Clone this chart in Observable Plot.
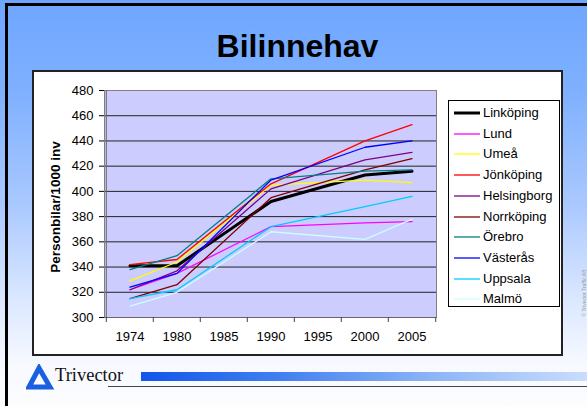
<!DOCTYPE html>
<html><head><meta charset="utf-8">
<script src="https://cdn.jsdelivr.net/npm/d3@7"></script>
<script src="https://cdn.jsdelivr.net/npm/@observablehq/plot@0.6"></script>
<style>
body{margin:0;background:#fff;font-family:"Liberation Sans",Arial,sans-serif;}
#root{position:relative;width:587px;height:406px;overflow:hidden;
  background:linear-gradient(to bottom,#6ea6ff 0%,#7eb0ff 22%,#a9c8ff 50%,#dde9ff 75%,#f7f9ff 90%,#fcfdff 100%);}
#border{position:absolute;left:5px;top:3px;right:-10px;bottom:-10px;border-left:3px solid #000;border-top:3px solid #000;}
#title{position:absolute;left:32px;width:531px;top:30px;text-align:center;font-size:32px;font-weight:bold;line-height:32px;color:#000;}
#panel{position:absolute;left:32px;top:70px;width:531px;height:286px;background:#fff;border:2px solid #222;box-sizing:border-box;}
#chart{position:absolute;left:32px;top:70px;}
#legend{position:absolute;left:448px;top:100px;width:112px;height:207px;background:#fff;border:1px solid #000;box-sizing:border-box;}
.lg{position:absolute;left:0;height:16px;font-size:13px;line-height:16px;white-space:nowrap;}
.lg svg{position:absolute;left:4px;top:0;}
.lg span{position:absolute;left:34px;top:0;}
#copy{position:absolute;left:584px;top:293px;transform:translate(-50%,-50%) rotate(-90deg);font-size:5px;color:#999;white-space:nowrap;}
#logo{position:absolute;left:26px;top:364px;}
#brand{position:absolute;left:55px;top:365px;font-family:"Liberation Serif","Times New Roman",serif;font-size:18.5px;line-height:20px;color:#111;}
#bar{position:absolute;left:141px;top:372px;width:446px;height:9px;background:linear-gradient(to right,#1255ea 0%,#3f7ef0 30%,#8cb4f6 65%,#c9ddfd 100%);}
#uline{position:absolute;left:108px;top:386px;width:479px;height:1px;background:#444;}
</style></head><body>
<div id="root">
  <div id="border"></div>
  <div id="title">Bilinnehav</div>
  <div id="panel"></div>
  <div id="chart"></div>
  <div id="legend"></div>
  <div id="copy">© Trivector Traffic AB</div>
  <svg id="logo" width="28" height="28" viewBox="0 0 28 28">
    <polygon points="13,4 24,23 3,23" fill="none" stroke="#1a5fe0" stroke-width="5" stroke-linejoin="miter"/>
  </svg>
  <div id="brand">Trivector</div>
  <div id="bar"></div>
  <div id="uline"></div>
</div>
<script>
const years = ["1974","1980","1985","1990","1995","2000","2005"];
const cities = ["Linköping","Lund","Umeå","Jönköping","Helsingborg","Norrköping","Örebro","Västerås","Uppsala","Malmö"];
const colors = ["#000000","#ff00ff","#ffff00","#ff0000","#800080","#800000","#008080","#0000ff","#00ccff","#ccffff"];
const yTicks = [300,320,340,360,380,400,420,440,460,480];
// values per city for each year (null = no value for that year)
const linkoping   = [341, 341, null, 392, null, 413, 416];
const lund        = [322, 335, null, 372, null, 375, 376];
const umea        = [329, 344, null, 405, null, 409, 407];
const jonkoping   = [342, 346, null, 406, null, 440, 453];
const helsingborg = [322, 337, null, 402, null, 425, 431];
const norrkoping  = [315, 326, null, 395, null, 417, 426];
const orebro      = [338, 349, null, 410, null, 416, 417];
const vasteras    = [324, 335, null, 409, null, 435, 440];
const uppsala     = [315, 322, null, 372, null, 388, 396];
const malmo       = [309, 320, null, 368, null, 362, 378];
const series = [linkoping,lund,umea,jonkoping,helsingborg,norrkoping,orebro,vasteras,uppsala,malmo];
const widths = cities.map(c => c === "Linköping" ? 3 : 1.3);

const W=408,H=286,ml=72,mr=4,mt=20,mb=39;
const bw=(W-ml-mr)/years.length;
const innerH=H-mt-mb;
const font='"Liberation Sans", Arial, sans-serif';

const lineMarks = series.map((vals,i) => {
  const rows = years.map((y,j)=>({year:y,value:vals[j]})).filter(d=>d.value!=null);
  return Plot.line(rows,{x:"year",y:"value",stroke:colors[i],strokeWidth:widths[i]});
});

const chart = Plot.plot({
  width:W,height:H,marginLeft:ml,marginRight:mr,marginTop:mt,marginBottom:mb,
  style:{background:"transparent",fontSize:"13px",fontFamily:font,color:"#000",overflow:"visible"},
  x:{type:"band",domain:years,padding:0},
  y:{domain:[300,480]},
  marks:[
    Plot.frame({fill:"#ccccff",stroke:null}),
    Plot.ruleY(yTicks,{stroke:"#222",strokeWidth:1}),
    Plot.frame({stroke:"#808080"}),
    Plot.ruleX([years[0]],{dx:-bw/2,stroke:"#666"}),
    Plot.ruleY([300],{stroke:"#666"}),
    Plot.ruleX(years,{dx:-bw/2,insetTop:innerH,insetBottom:-5,stroke:"#444"}),
    Plot.ruleX([years[years.length-1]],{dx:bw/2,insetTop:innerH,insetBottom:-5,stroke:"#444"}),
    Plot.axisY({ticks:yTicks,tickSize:5,tickPadding:6,label:null,tickFormat:d=>String(d)}),
    Plot.axisX({tickSize:0,tickPadding:14,label:null}),
    Plot.text(["Personbilar/1000 inv"],{frameAnchor:"left",textAnchor:"middle",lineAnchor:"middle",rotate:-90,dx:-49,dy:3,fontWeight:"bold",fontSize:13.5,fill:"#000"}),
    ...lineMarks
  ]
});
document.getElementById("chart").appendChild(chart);

const legend = document.getElementById("legend");
cities.forEach((c,i)=>{
  const el = document.createElement("div");
  el.className="lg";
  el.style.top = (4 + i*20.7) + "px";
  el.innerHTML = `<svg width="28" height="16"><line x1="1" x2="27" y1="8" y2="8" stroke="${colors[i]}" stroke-width="${widths[i]}"/></svg><span>${c}</span>`;
  legend.appendChild(el);
});
</script>
</body></html>
